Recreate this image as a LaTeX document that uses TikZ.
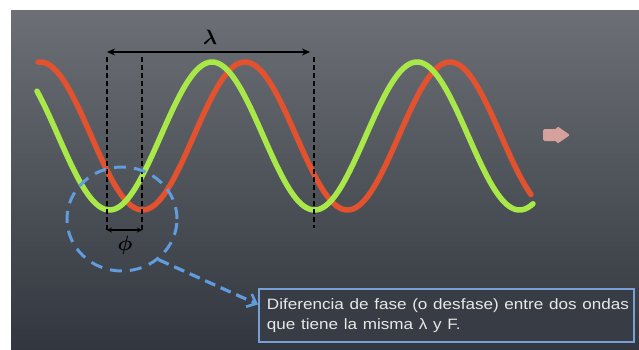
\documentclass[tikz,border=0pt]{standalone}
\usepackage{graphicx}
\usepackage{fontspec}
\newfontfamily\boxfont{Liberation Sans}
\usetikzlibrary{shapes.geometric,arrows.meta,calc}
\definecolor{panelTop}{RGB}{108,112,118}
\definecolor{panelBot}{RGB}{50,54,62}
\definecolor{waveGreen}{RGB}{168,232,72}
\definecolor{waveRed}{RGB}{226,82,46}
\definecolor{noteBlue}{RGB}{96,156,222}
\definecolor{boxBorder}{RGB}{120,160,215}
\definecolor{boxFill}{RGB}{56,60,68}
\definecolor{textLight}{RGB}{232,232,232}
\definecolor{arrowPink}{RGB}{214,160,156}
\begin{document}
\begin{tikzpicture}[x=1pt,y=-1pt,
  wave/.style={line width=5.5pt,line cap=round,line join=round},
  guide/.style={black,line width=1.4pt,dash pattern=on 5pt off 3pt},
  measure/.style={black,line width=2.6pt,{Stealth[length=8pt,width=7pt]}-{Stealth[length=8pt,width=7pt]}},
  smallmeasure/.style={black,line width=1.6pt,{Stealth[length=5pt,width=5pt]}-{Stealth[length=5pt,width=5pt]}},
  greek/.style={black,font=\fontsize{22}{22}\selectfont\boldmath,inner sep=0pt},
  ring/.style={ellipse,draw=noteBlue,line width=3pt,dash pattern=on 12pt off 8pt,minimum width=110pt,minimum height=104pt,inner sep=0pt},
  pointer/.style={noteBlue,line width=3.2pt,dash pattern=on 11pt off 6pt,-{Straight Barb[length=8pt,width=14pt,line width=2.6pt]}},
  notebox/.style={draw=boxBorder,line width=1.8pt,fill=boxFill,anchor=north west,minimum width=375pt,minimum height=53pt,inner xsep=8pt,text width=359pt,align=left,text=textLight,font=\boxfont\fontsize{15}{19.5}\selectfont}
]
\useasboundingbox (0,0) rectangle (639,349);
\fill[white] (0,0) rectangle (639,349);
\shade[top color=panelTop,bottom color=panelBot] (11,10) rectangle (639,349);

% waves
\draw[wave,waveRed] plot[domain=38:531,samples=250] (\x,{136-74*cos((\x-245)*1.756098)});
\draw[wave,waveGreen] plot[domain=37:533,samples=250] (\x,{136-74*cos((\x-212)*1.756098)});

% guide lines
\coordinate (g1t) at (107,57); \coordinate (g1b) at (107,232);
\coordinate (g2t) at (142,57); \coordinate (g2b) at (142,232);
\coordinate (g3t) at (314,57); \coordinate (g3b) at (314,228);
\draw[guide] (g1t) -- (g1b);
\draw[guide] (g2t) -- (g2b);
\draw[guide] (g3t) -- (g3b);

% wavelength
\coordinate (lamA) at (107,52); \coordinate (lamB) at (310,52);
\draw[measure] (lamA) -- (lamB);
\node[greek] (lam) at (210,37) {$\lambda$};

% phase difference
\coordinate (phA) at (107,230); \coordinate (phB) at (142,230);
\draw[smallmeasure] (phA) -- (phB);
\node[greek] (phi) at (125,245) {$\phi$};

% dashed ring and note
\node[ring] (ring) at (122,219) {};
\node[notebox] (note) at (258,288) {\scalebox{1.14}[1]{Diferencia de fase (o desfase) entre dos ondas}\\\scalebox{1.14}[1]{que tiene la misma λ y F.}};
\coordinate (noteIn) at ($(note.north west)!0.3!(note.south west)$);
\draw[pointer] (ring.-48) -- (noteIn);

% direction arrow
\fill[arrowPink,rounded corners=1.5pt] (543,129) -- (557,129) -- (557,126) -- (570,135) -- (557,144) -- (557,141) -- (543,141) -- cycle;
\end{tikzpicture}
\end{document}
